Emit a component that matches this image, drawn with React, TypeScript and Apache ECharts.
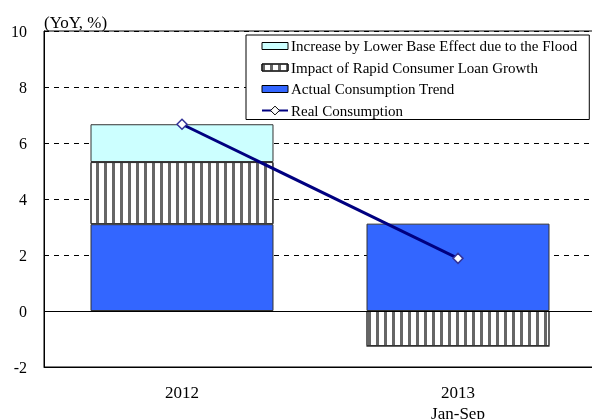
import React, { useEffect, useRef } from "react";
import * as echarts from "echarts";

const categories = ["2012", "2013\nJan-Sep"];
const seriesNames = [
  "Increase by Lower Base Effect due to the Flood",
  "Impact of Rapid Consumer Loan Growth",
  "Actual Consumption Trend",
  "Real Consumption",
];
const actualTrend = [3.1, 3.12];
const loanImpact = [2.22, -1.25];
const floodEffect = [1.35, 0];
const realConsumption = [6.67, 1.88];
const yTicks = { min: -2, max: 10, interval: 2 };

const FONT = "'Liberation Serif', 'Times New Roman', serif";
const RECT_ICON = "path://M0,0h26v7h-26z";

export default function App() {
  const ref = useRef<HTMLDivElement>(null);
  useEffect(() => {
    if (!ref.current) return;
    const chart = echarts.init(ref.current, undefined, { renderer: "svg" });
    chart.setOption({
      animation: false,
      textStyle: { fontFamily: FONT, color: "#000" },
      grid: {
        left: 44,
        top: 31,
        bottom: 52,
        width: 552,
        show: true,
        borderColor: "#000",
        borderWidth: 1,
        containLabel: false,
        outerBoundsMode: "none",
      },
      legend: {
        orient: "vertical",
        left: 246,
        top: 35,
        data: [
          { name: seriesNames[0], icon: RECT_ICON },
          { name: seriesNames[1], icon: RECT_ICON },
          { name: seriesNames[2], icon: RECT_ICON },
          { name: seriesNames[3] },
        ],
        symbolKeepAspect: true,
        backgroundColor: "#fff",
        borderColor: "#000",
        borderWidth: 1,
        padding: [3, 12, 1, 15],
        itemWidth: 26,
        itemHeight: 11,
        itemGap: 5.5,
        itemStyle: { borderColor: "#000", borderWidth: 1 },
        textStyle: { fontFamily: FONT, fontSize: 15, color: "#000", lineHeight: 16, padding: [0, 0, 0, -2] },
      },
      xAxis: {
        type: "category",
        data: categories,
        position: "bottom",
        axisLine: { onZero: false, show: true, lineStyle: { color: "#000" } },
        axisTick: { show: false },
        axisLabel: { fontFamily: FONT, fontSize: 17, color: "#000", margin: 15, lineHeight: 21 },
      },
      yAxis: {
        type: "value",
        min: yTicks.min,
        max: yTicks.max,
        interval: yTicks.interval,
        name: "(YoY, %)",
        nameLocation: "end",
        nameGap: 0,
        nameTextStyle: { fontFamily: FONT, fontSize: 17, color: "#000", align: "left", verticalAlign: "bottom" },
        axisLine: { show: true, lineStyle: { color: "#000" } },
        axisTick: { show: false },
        axisLabel: { fontFamily: FONT, fontSize: 16, color: "#000", margin: 17 },
        splitLine: { show: true, lineStyle: { color: "#000", type: [5, 5], width: 1 } },
      },
      series: [
        {
          name: seriesNames[2],
          type: "bar",
          stack: "total",
          data: actualTrend,
          barWidth: "66.3%",
          itemStyle: { color: "#3366FF", borderColor: "#333", borderWidth: 1 },
          markLine: {
            silent: true,
            symbol: "none",
            label: { show: false },
            lineStyle: { color: "#000", type: "solid", width: 1 },
            data: [{ yAxis: 0 }],
          },
        },
        {
          name: seriesNames[1],
          type: "bar",
          stack: "total",
          data: loanImpact,
          itemStyle: {
            color: "#fff",
            borderColor: "#333",
            borderWidth: 1,
            decal: {
              symbol: "rect",
              symbolSize: 1,
              color: "#666",
              dashArrayX: [3, 5],
              dashArrayY: [4, 0],
              rotation: 0,
            },
          },
        },
        {
          name: seriesNames[0],
          type: "bar",
          stack: "total",
          data: floodEffect,
          itemStyle: { color: "#CCFFFF", borderColor: "#333", borderWidth: 1 },
        },
        {
          name: seriesNames[3],
          type: "line",
          data: realConsumption,
          symbol: "diamond",
          symbolSize: [10, 10],
          z: 5,
          lineStyle: { color: "#000080", width: 3 },
          itemStyle: { color: "#fff", borderColor: "#333399", borderWidth: 1.5 },
        },
      ],
    });
    return () => chart.dispose();
  }, []);
  return <div ref={ref} style={{ position: "fixed", left: 0, top: 0, width: 592, height: 419 }} />;
}
